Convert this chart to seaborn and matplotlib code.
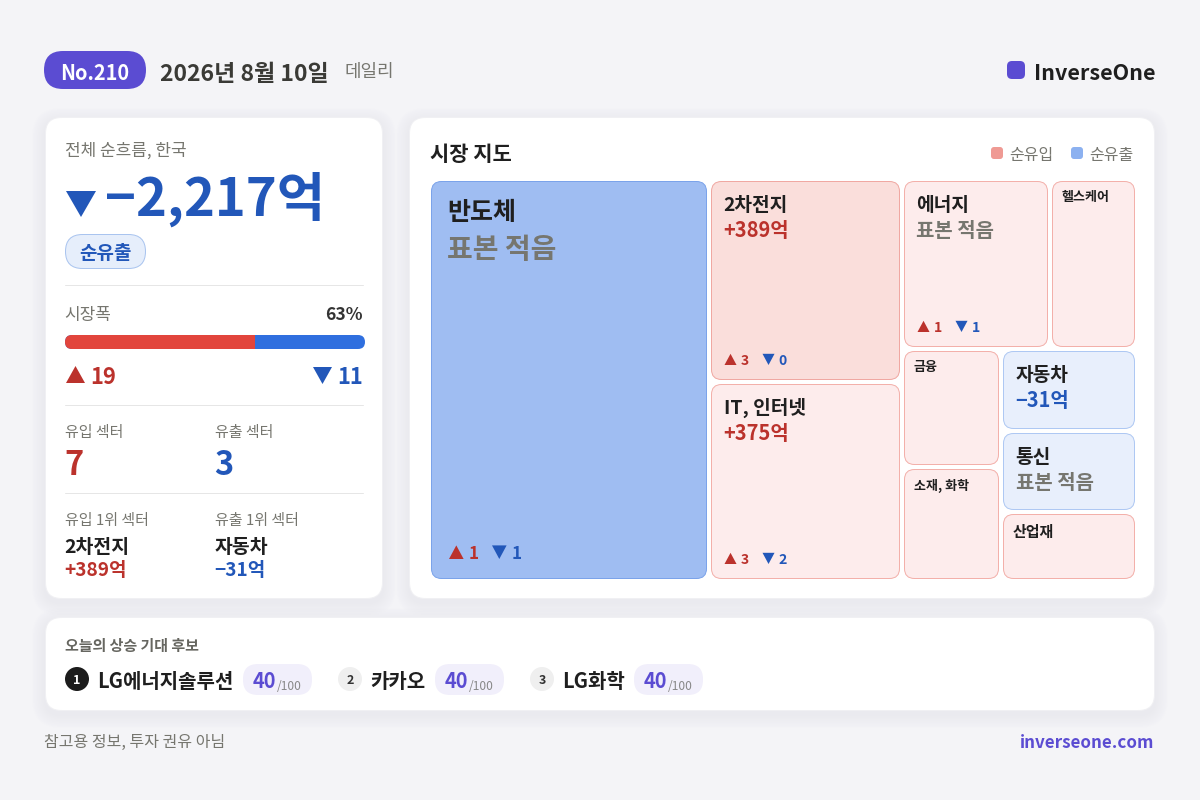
import matplotlib
matplotlib.use("Agg")
import matplotlib.pyplot as plt
import seaborn as sns
from matplotlib.patches import FancyBboxPatch, Polygon, Circle

# --- data ---
ISSUE_LABEL = "No.210"
DATE_LABEL = "2026년 8월 10일"
NET_FLOW_LABEL = "−2,217억"
BREADTH_UP = 19
BREADTH_DOWN = 11
BREADTH_PCT = "63%"
INFLOW_SECTORS = 7
OUTFLOW_SECTORS = 3

sector_names = ["반도체", "2차전지", "IT, 인터넷", "에너지", "헬스케어",
                "금융", "소재, 화학", "자동차", "통신", "산업재"]
sector_weights = [1125.6, 391.8, 384.0, 251.6, 147.9, 116.8, 112.9, 111.5, 110.2, 93.8]
sector_flows = ["표본 적음", "+389억", "+375억", "표본 적음", None,
                None, None, "−31억", "표본 적음", None]
sector_up = [1, 3, 3, 1, None, None, None, None, None, None]
sector_down = [1, 0, 2, 1, None, None, None, None, None, None]
sector_tones = ["out_strong", "in_mid", "in_light", "in_light", "in_light",
                "in_light", "in_light", "out_light", "out_light", "in_light"]

candidate_names = ["LG에너지솔루션", "카카오", "LG화학"]
candidate_scores = [40, 40, 40]

# --- style ---
BG = "#f4f4f7"
INK = "#1f1f1f"
GRAY = "#76766f"
PURPLE = "#5b4cd2"
RED = "#bb322c"
BLUE = "#2257b9"
TONES = {
    "out_strong": ("#9fbdf2", "#7ba3ea"),
    "in_mid": ("#fadedb", "#f0a8a2"),
    "in_light": ("#fdecec", "#f3b0aa"),
    "out_light": ("#e8effc", "#aec8f3"),
}
# treemap nesting, columns first then alternating
TREE = [0, [1, 2], [[3, 4], [[5, 6], [7, 8, 9]]]]
MAP_RECT = (429, 179, 1137, 581)
MAP_GAP = 2

CAND_RANK_X = [77, 350, 542]
CAND_NAME_X = [97, 370, 562]
CAND_PILL_X = [243, 435, 634]

sns.set_theme(style="white")
plt.rcParams["font.family"] = ["Noto Sans CJK KR", "DejaVu Sans"]

fig = plt.figure(figsize=(12, 8), dpi=100, facecolor=BG)
ax = fig.add_axes([0, 0, 1, 1])
ax.set_xlim(0, 1200)
ax.set_ylim(800, 0)
ax.axis("off")


def text(x, y, s, size, color=INK, weight="normal", ha="left"):
    # size is in pixels, y is the baseline
    return ax.text(x, y, s, fontsize=size * 0.72, color=color, fontweight=weight,
                   ha=ha, va="baseline", zorder=5)


def rounded(x0, y0, x1, y1, r, fc, ec="none", lw=1.0, z=2, alpha=None):
    if ec != "none":
        # keep 1px strokes on the pixel grid
        x0, y0, x1, y1 = x0 + 0.5, y0 + 0.5, x1 - 0.5, y1 - 0.5
    p = FancyBboxPatch((x0, y0), x1 - x0, y1 - y0, boxstyle=f"round,pad=0,rounding_size={r}",
                       fc=fc, ec=ec, lw=lw * 0.72, zorder=z, alpha=alpha)
    ax.add_patch(p)
    return p


def triangle(x0, y0, x1, y1, up, color):
    xm = (x0 + x1) / 2
    pts = [(x0, y1), (x1, y1), (xm, y0)] if up else [(x0, y0), (x1, y0), (xm, y1)]
    ax.add_patch(Polygon(pts, closed=True, fc=color, ec="none", zorder=5))


def card(x0, y0, x1, y1):
    for i in range(1, 9):
        e = i * 1.6
        rounded(x0 - e, y0 - e + 4, x1 + e, y1 + e + 4, 16 + e, "#d2d2de", z=1, alpha=0.03)
    rounded(x0, y0, x1, y1, 16, "white", "#f0f0f3", 1)


def weight_of(node):
    if isinstance(node, int):
        return sector_weights[node]
    return sum(weight_of(n) for n in node)


def layout(node, rect, depth, out):
    if isinstance(node, int):
        out[node] = rect
        return
    x0, y0, x1, y1 = rect
    total = weight_of(node)
    pos = x0 if depth % 2 == 0 else y0
    for child in node:
        share = weight_of(child) / total
        if depth % 2 == 0:
            step = (x1 - x0) * share
            layout(child, (pos, y0, pos + step, y1), depth + 1, out)
        else:
            step = (y1 - y0) * share
            layout(child, (x0, pos, x1, pos + step), depth + 1, out)
        pos += step


def draw_counts(x, y, up, down, size, step):
    # x is the left of the up triangle, y the shared baseline
    tw = size * 0.86
    th = size * 0.8
    triangle(x, y - th, x + tw, y, True, RED)
    text(x + tw + size * 0.28, y, str(up), size, RED, "bold")
    dx = x + step
    triangle(dx, y - th, dx + tw, y, False, BLUE)
    text(dx + tw + size * 0.28, y, str(down), size, BLUE, "bold")


# --- header ---
rounded(44, 51, 146, 89, 19, PURPLE)
text(95, 79.5, ISSUE_LABEL, 20, "white", "bold", "center")
text(160, 81, DATE_LABEL, 23, "#3a3a36", "bold")
text(344, 77, "데일리", 18, GRAY)
rounded(1007, 61, 1025, 79, 5, PURPLE)
text(1034, 80, "InverseOne", 21.5, INK, "bold")

# --- left card ---
card(45, 117, 383, 599)
text(65, 156, "전체 순흐름, 한국", 17, GRAY)
triangle(66, 191, 96, 217, False, BLUE)
text(105, 216, NET_FLOW_LABEL, 52.5, BLUE, "bold")
rounded(65, 234, 146, 269, 17, "#e6eefb", "#a9c4ef", 1)
text(105.5, 259, "순유출", 19, BLUE, "bold", "center")

for y in (285, 405, 493):
    ax.plot([65, 363], [y, y], color="#e6e6e6", lw=0.72, zorder=3)

text(64.5, 320, "시장폭", 17, GRAY)
text(362.5, 320, BREADTH_PCT, 17.5, "#333333", "bold", "right")

bar_ax = fig.add_axes([65 / 1200, 1 - 349 / 800, 300 / 1200, 14 / 800])
sns.barplot(x=[BREADTH_UP + BREADTH_DOWN], y=[0], orient="h", color="#2f6fdf",
            saturation=1, width=1, linewidth=0, ax=bar_ax)
sns.barplot(x=[BREADTH_UP], y=[0], orient="h", color="#e2453c",
            saturation=1, width=1, linewidth=0, ax=bar_ax)
bar_ax.set_xlim(0, BREADTH_UP + BREADTH_DOWN)
bar_ax.set_ylim(0.5, -0.5)
bar_ax.axis("off")
bar_clip = rounded(65, 335, 365, 349, 7, "none")
for bar in bar_ax.patches:
    bar.set_clip_path(bar_clip)

triangle(66, 366, 85, 383, True, RED)
text(90.5, 384, str(BREADTH_UP), 22, RED, "bold")
triangle(313, 367, 332, 384, False, BLUE)
text(363, 384, str(BREADTH_DOWN), 22, BLUE, "bold", "right")

text(65, 437, "유입 섹터", 15, GRAY)
text(215, 437, "유출 섹터", 15, GRAY)
text(64.5, 475, str(INFLOW_SECTORS), 32.5, RED, "bold")
text(214.5, 475, str(OUTFLOW_SECTORS), 32.5, BLUE, "bold")

text(65, 525, "유입 1위 섹터", 15, GRAY)
text(215, 525, "유출 1위 섹터", 15, GRAY)
text(64.5, 553, sector_names[1], 19.4, INK, "bold")
text(214.5, 553, sector_names[7], 19.4, INK, "bold")
text(64.5, 576, sector_flows[1], 19, RED, "bold")
text(214.5, 576, sector_flows[7], 19, BLUE, "bold")

# --- right card, treemap ---
card(409, 117, 1155, 599)
text(429.5, 161, "시장 지도", 21, INK, "bold")
rounded(991, 147, 1003, 159, 3, "#ef9a94")
text(1009, 160, "순유입", 16, GRAY)
rounded(1071, 147, 1083, 159, 3, "#8cb1f0")
text(1089.5, 160, "순유출", 16, GRAY)

cells = {}
layout(TREE, MAP_RECT, 0, cells)
for i, name in enumerate(sector_names):
    x0, y0, x1, y1 = [round(v) for v in cells[i]]
    x0, y0, x1, y1 = x0 + MAP_GAP, y0 + MAP_GAP, x1 - MAP_GAP, y1 - MAP_GAP
    fc, ec = TONES[sector_tones[i]]
    rounded(x0, y0, x1, y1, 10, fc, ec, 1)
    flow = sector_flows[i]
    w = x1 - x0
    if flow is None:
        big = w > 120
        text(x0 + 10, y0 + (23 if big else 20.5), name, 15 if big else 13, INK, "bold")
        continue
    if w > 250:
        pad, name_size, flow_size, b1, b2, cnt, cnt_b, step, tri_dx = 16, 25, 28, 39, 77, 17, 20, 43, 2
    else:
        pad, name_size, flow_size, b1, b2, cnt, cnt_b, step, tri_dx = 12.5, 19.2, 20, 30, 56, 14, 15, 38, 1
    text(x0 + pad, y0 + b1, name, name_size, INK, "bold")
    if flow.startswith("+"):
        color = RED
    elif flow.startswith("−"):
        color = BLUE
    else:
        color = GRAY
    text(x0 + pad, y0 + b2, flow, flow_size, color, "bold")
    if sector_up[i] is not None:
        draw_counts(x0 + pad + tri_dx, y1 - cnt_b, sector_up[i], sector_down[i], cnt, step)

# --- bottom card ---
card(45, 617, 1155, 711)
text(65, 651, "오늘의 상승 기대 후보", 15, "#666660", "bold")
for i, name in enumerate(candidate_names):
    first = i == 0
    ax.add_patch(Circle((CAND_RANK_X[i], 679), 12, fc="#1c1c1c" if first else "#efefef",
                        ec="none", zorder=4))
    text(CAND_RANK_X[i], 684, str(i + 1), 12.5, "white" if first else "#333333", "bold", "center")
    text(CAND_NAME_X[i], 688, name, 20, INK, "bold")
    px = CAND_PILL_X[i]
    rounded(px, 664, px + 69, 695, 15, "#f1effb")
    text(px + 10, 688, str(candidate_scores[i]), 20, PURPLE, "bold")
    text(px + 34, 690, "/100", 12, "#888888")

# --- footer ---
text(44, 747, "참고용 정보, 투자 권유 아님", 16, GRAY)
text(1154, 748, "inverseone.com", 17, PURPLE, "bold", "right")

fig.savefig("out.png", dpi=100, facecolor=BG)
